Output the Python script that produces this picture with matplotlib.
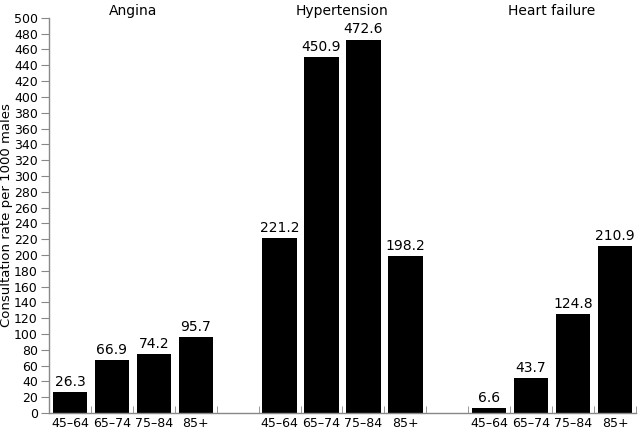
import numpy as np
import matplotlib
matplotlib.use("Agg")
from matplotlib import pyplot as plt

groups = ["Angina", "Hypertension", "Heart failure"]
ages = ["45\u201364", "65\u201374", "75\u201384", "85+"]
angina = [26.3, 66.9, 74.2, 95.7]
hypertension = [221.2, 450.9, 472.6, 198.2]
heart_failure = [6.6, 43.7, 124.8, 210.9]
series = [angina, hypertension, heart_failure]

plt.rcParams['font.family'] = ['DejaVu Sans']

fig = plt.figure(figsize=(6.4, 4.29), dpi=100)
ax = fig.add_axes([0.0766, 0.0373, 0.917, 0.921])

pos = []
vals = []
labs = []
for g, vs in enumerate(series):
    for i, v in enumerate(vs):
        pos.append(g * 5 + i + 0.5)
        vals.append(v)
        labs.append(ages[i])

bars = ax.bar(pos, vals, width=0.82, color='black')
for x, v in zip(pos, vals):
    ax.text(x, v + 4, f"{v:.1f}", ha='center', va='bottom', fontsize=10)

for g, name in enumerate(groups):
    ax.text(g * 5 + 2, 1.0, name, ha='center', va='bottom', fontsize=10,
            transform=ax.get_xaxis_transform())

ax.set_xlim(0, 14)
ax.set_ylim(0, 500)
ax.set_yticks(np.arange(0, 501, 20))
ax.set_xticks(pos)
ax.set_xticklabels(labs, fontsize=9)
ax.tick_params(axis='x', length=0, pad=3)
ax.set_xticks(np.arange(0, 15), minor=True)
ax.tick_params(axis='x', which='minor', length=5, direction='in', color='#888888')
ax.tick_params(axis='y', labelsize=9, length=6, color='#888888', pad=2)
ax.set_ylabel("Consultation rate per 1000 males", fontsize=9.5)
ax.yaxis.set_label_coords(-0.061, 0.5)

for s in ['top', 'right']:
    ax.spines[s].set_visible(False)
for s in ['left', 'bottom']:
    ax.spines[s].set_color('#888888')
    ax.spines[s].set_linewidth(1.0)

fig.savefig("out.png", dpi=100)
